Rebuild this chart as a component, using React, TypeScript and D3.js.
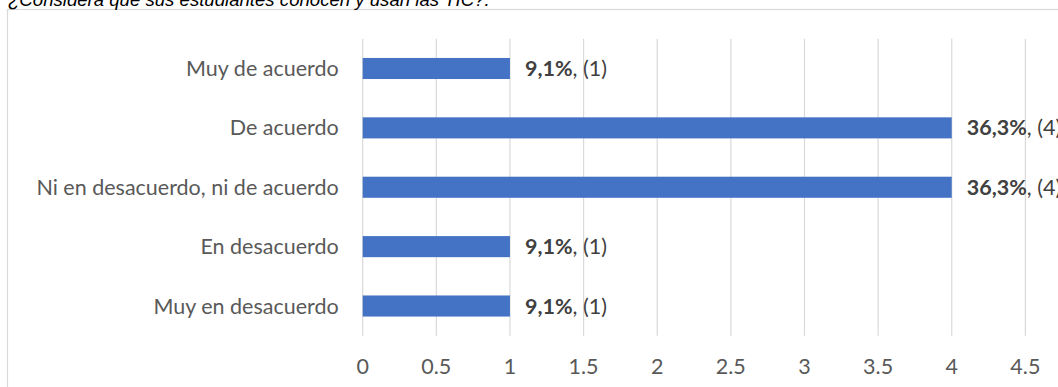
import React from "react";
import * as d3 from "d3";

const categories = [
  "Muy de acuerdo",
  "De acuerdo",
  "Ni en desacuerdo, ni de acuerdo",
  "En desacuerdo",
  "Muy en desacuerdo",
];
const counts = [1, 4, 4, 1, 1];
const percentLabels = ["9,1%", "36,3%", "36,3%", "9,1%", "9,1%"];
const xTicks = [0, 0.5, 1, 1.5, 2, 2.5, 3, 3.5, 4, 4.5];

const title = "¿Considera que sus estudiantes conocen y usan las TIC?.";

const W = 1058;
const H = 387;
const plot = { left: 362.7, right: 1099, top: 38.8, bottom: 335.7 };
const labelFont = "Lato, 'Open Sans', sans-serif";
const labelSize = 21.5;

export default function App() {
  const x = d3.scaleLinear().domain([0, 5]).range([plot.left, plot.right]);
  const y = d3
    .scaleBand<string>()
    .domain(categories)
    .range([plot.top, plot.bottom])
    .paddingInner(0.645)
    .paddingOuter(0.3225);

  return (
    <svg
      width={W}
      height={H}
      style={{ position: "absolute", left: 0, top: 0, background: "#fff" }}
    >
      <rect x={0} y={0} width={W} height={H} fill="#fff" />
      {/* chart frame */}
      <rect
        x={7.5}
        y={9.5}
        width={W + 20}
        height={H + 20}
        fill="#fff"
        stroke="#d9d9d9"
        strokeWidth={1.2}
      />
      <text
        x={8}
        y={6}
        fontFamily="'Liberation Sans', Arial, sans-serif"
        fontStyle="italic"
        fontSize={18.6}
        fill="#000"
      >
        {title}
      </text>

      {/* vertical gridlines */}
      {xTicks.map((t) => (
        <line
          key={t}
          x1={x(t)}
          x2={x(t)}
          y1={plot.top}
          y2={plot.bottom}
          stroke="#d9d9d9"
          strokeWidth={1.2}
        />
      ))}

      {/* bars */}
      {categories.map((c, i) => (
        <rect
          key={c}
          x={x(0)}
          y={y(c)!}
          width={x(counts[i]) - x(0)}
          height={y.bandwidth()}
          fill="#4472c4"
        />
      ))}

      {/* category labels */}
      {categories.map((c) => (
        <text
          key={c}
          x={plot.left - 24}
          y={y(c)! + y.bandwidth() / 2}
          dy="0.35em"
          textAnchor="end"
          fontFamily={labelFont}
          fontSize={labelSize}
          fill="#595959"
        >
          {c}
        </text>
      ))}

      {/* value labels */}
      {categories.map((c, i) => (
        <text
          key={c}
          x={x(counts[i]) + 15}
          y={y(c)! + y.bandwidth() / 2}
          dy="0.35em"
          fontFamily={labelFont}
          fontSize={labelSize}
          fill="#404040"
        >
          <tspan fontWeight="bold">{percentLabels[i]}</tspan>
          <tspan>{`, (${counts[i]})`}</tspan>
        </text>
      ))}

      {/* x tick labels */}
      {xTicks.map((t) => (
        <text
          key={t}
          x={x(t)}
          y={366.7}
          dy="0.35em"
          textAnchor="middle"
          fontFamily={labelFont}
          fontSize={labelSize}
          fill="#595959"
        >
          {String(t)}
        </text>
      ))}
    </svg>
  );
}
